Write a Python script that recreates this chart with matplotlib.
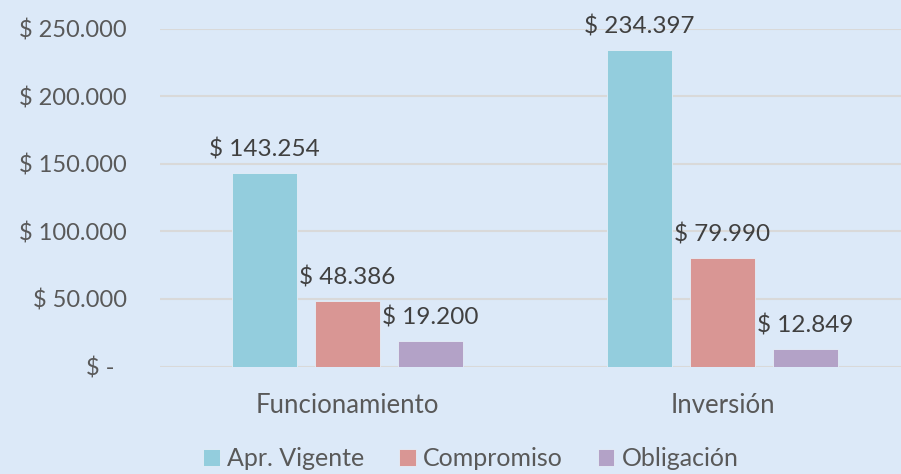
import matplotlib.pyplot as plt
import numpy as np

categories = ['Funcionamiento', 'Inversión']
series = ['Apr. Vigente', 'Compromiso', 'Obligación']
apr_vigente = [143254, 234397]
compromiso = [48386, 79990]
obligacion = [19200, 12849]
yticks = [0, 50000, 100000, 150000, 200000, 250000]

colors = ['#93CDDD', '#D99694', '#B3A2C7']
bg = '#DCE9F8'


def fmt(v):
    if v == 0:
        return '$ -  '
    return '$ ' + f'{v:,.0f}'.replace(',', '.')


plt.rcParams['font.family'] = ['Lato', 'DejaVu Sans']

fig = plt.figure(figsize=(9.01, 4.74), dpi=100)
fig.patch.set_facecolor(bg)
W, H = 901, 474
ax = fig.add_axes([160 / W, 1 - 366.5 / H, 750 / W, 338 / H])
ax.set_facecolor(bg)

x = np.arange(len(categories))
width = 0.173
offsets = [-0.2213, 0, 0.2213]
for vals, off, col, name in zip([apr_vigente, compromiso, obligacion], offsets, colors, series):
    bars = ax.bar(x + off, vals, width, color=col, label=name, zorder=3,
                  edgecolor='#E4EEF8', linewidth=0.6)
    for b, v in zip(bars, vals):
        ax.annotate(fmt(v), (b.get_x() + b.get_width() / 2, v), xytext=(0, 9),
                    textcoords='offset points', ha='center', va='bottom',
                    fontsize=17.5, color='#404040', annotation_clip=False)

ax.set_xlim(-0.5, 1.5)
ax.set_ylim(0, 250000)
ax.set_yticks(yticks)
ax.set_yticklabels([fmt(v) for v in yticks])
ax.set_xticks(x)
ax.set_xticklabels(categories)
ax.tick_params(axis='y', length=0, pad=24, labelsize=17, labelcolor='#595959')
ax.tick_params(axis='x', length=0, pad=19, labelsize=18.5, labelcolor='#595959')
ax.grid(axis='y', color='#D9D9D9', linewidth=1.5, zorder=0)
for s in ax.spines.values():
    s.set_visible(False)

leg = fig.legend(loc='center', bbox_to_anchor=(471 / W, 1 - 459 / H), ncol=3,
                 frameon=False, fontsize=18, handlelength=0.65, handleheight=0.65,
                 handletextpad=0.3, columnspacing=1.4, labelcolor='#595959')

plt.savefig('out.png', dpi=100, facecolor=bg)
